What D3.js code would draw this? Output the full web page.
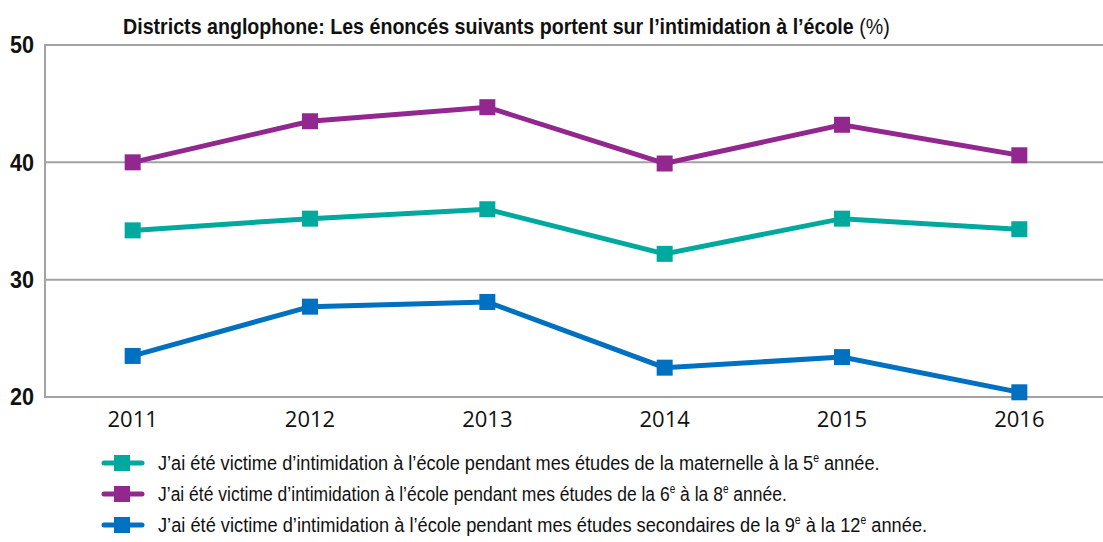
<!DOCTYPE html>
<html>
<head>
<meta charset="utf-8">
<script src="https://d3js.org/d3.v7.min.js"></script>
<style>
  body { margin: 0; background: #fff; }
  svg { display: block; }
</style>
</head>
<body>
<div id="chart"></div>
<script>
// data
var years = ["2011", "2012", "2013", "2014", "2015", "2016"];
var maternelle = [34.2, 35.2, 36.0, 32.2, 35.2, 34.3];
var sixToEight = [40.0, 43.5, 44.7, 39.9, 43.2, 40.6];
var secondaire = [23.5, 27.7, 28.1, 22.5, 23.4, 20.4];
var yTicks = [20, 30, 40, 50];

var seriesList = [
  { values: maternelle, color: "#00a99d", width: 722,
    label: ["J’ai été victime d’intimidation à l’école pendant mes études de la maternelle à la 5", "e", " année."] },
  { values: sixToEight, color: "#92278f", width: 629,
    label: ["J’ai été victime d’intimidation à l’école pendant mes études de la 6", "e", " à la 8", "e", " année."] },
  { values: secondaire, color: "#0070c0", width: 770,
    label: ["J’ai été victime d’intimidation à l’école pendant mes études secondaires de la 9", "e", " à la 12", "e", " année."] }
];

var W = 1103, H = 542;
var svg = d3.select("#chart").append("svg").attr("width", W).attr("height", H);

var plotLeft = 44, plotRight = 1108, plotTop = 45, plotBottom = 397;

var x = d3.scalePoint().domain(years).range([plotLeft, plotRight]).padding(0.5);
var y = d3.scaleLinear().domain([20, 50]).range([plotBottom, plotTop]);

var font = "'Liberation Sans', Arial, sans-serif";

// squeeze a text horizontally so it looks like the condensed face of the original
function squeeze(g, text, width) {
  var w = text.node().getComputedTextLength();
  g.attr("transform", g.attr("transform") + " scale(" + (width / w) + ",1)");
}

// gridlines
svg.selectAll(".grid").data(yTicks).enter().append("line")
  .attr("x1", plotLeft).attr("x2", W)
  .attr("y1", function(d) { return y(d); }).attr("y2", function(d) { return y(d); })
  .attr("stroke", "#a3a3a3").attr("stroke-width", 2);

// left axis line
svg.append("line")
  .attr("x1", plotLeft + 1).attr("x2", plotLeft + 1)
  .attr("y1", plotTop).attr("y2", plotBottom)
  .attr("stroke", "#a3a3a3").attr("stroke-width", 2);

// y tick labels
yTicks.forEach(function(d) {
  var g = svg.append("g").attr("transform", "translate(34," + y(d) + ")");
  var t = g.append("text").attr("dy", "0.36em").attr("text-anchor", "end")
    .attr("font-family", font).attr("font-weight", "bold")
    .attr("font-size", 23).attr("fill", "#111").text(d);
  squeeze(g, t, 24);
});

// x tick labels
svg.selectAll(".xlab").data(years).enter().append("text")
  .attr("x", function(d) { return x(d); }).attr("y", 427)
  .attr("text-anchor", "middle")
  .attr("font-family", "'Open Sans', sans-serif")
  .attr("font-size", 22).attr("fill", "#111")
  .text(function(d) { return d; });

// title
var tg = svg.append("g").attr("transform", "translate(123,34)");
var title = tg.append("text")
  .attr("font-family", font).attr("font-size", 22).attr("fill", "#111");
title.append("tspan").attr("font-weight", "bold")
  .text("Districts anglophone: Les énoncés suivants portent sur l’intimidation à l’école ");
title.append("tspan").text("(%)");
squeeze(tg, title, 767);

var line = d3.line()
  .x(function(d, i) { return x(years[i]); })
  .y(function(d) { return y(d); });

seriesList.forEach(function(s) {
  svg.append("path").datum(s.values)
    .attr("d", line).attr("fill", "none")
    .attr("stroke", s.color).attr("stroke-width", 5);
  svg.selectAll(null).data(s.values).enter().append("rect")
    .attr("x", function(d, i) { return x(years[i]) - 8; })
    .attr("y", function(d) { return y(d) - 8; })
    .attr("width", 16).attr("height", 16)
    .attr("fill", s.color);
});

// legend
seriesList.forEach(function(s, k) {
  var ly = 463 + k * 31;
  svg.append("line").attr("x1", 104).attr("x2", 142)
    .attr("y1", ly).attr("y2", ly)
    .attr("stroke", s.color).attr("stroke-width", 5).attr("stroke-linecap", "round");
  svg.append("rect").attr("x", 114).attr("y", ly - 8)
    .attr("width", 16).attr("height", 16).attr("fill", s.color);
  var g = svg.append("g").attr("transform", "translate(158," + (ly + 7) + ")");
  var t = g.append("text")
    .attr("font-family", font).attr("font-size", 21).attr("fill", "#111");
  var shift = 0;
  s.label.forEach(function(part) {
    if (part === "e") {
      t.append("tspan").attr("font-size", 12).attr("dy", -8).text("e");
      shift = 8;
    } else {
      t.append("tspan").attr("dy", shift).text(part);
      shift = 0;
    }
  });
  squeeze(g, t, s.width);
});
</script>
</body>
</html>
